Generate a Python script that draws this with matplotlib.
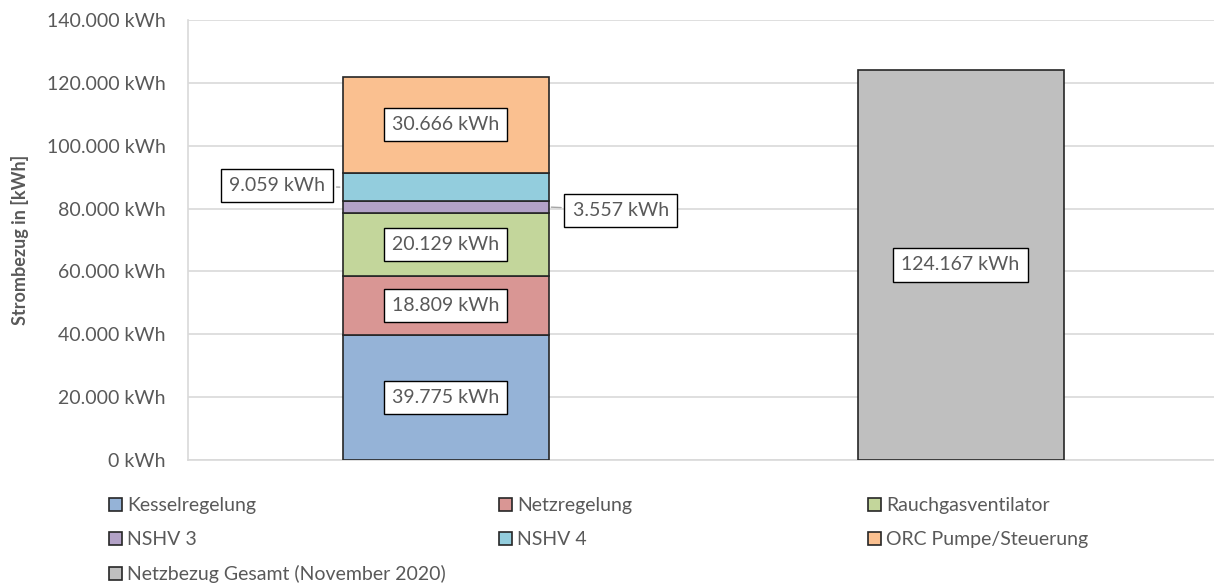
import matplotlib.pyplot as plt
import numpy as np

plt.rcParams['font.family'] = ['Lato', 'DejaVu Sans']

categories = ['Anteile', 'Gesamt']
parts = ['Kesselregelung', 'Netzregelung', 'Rauchgasventilator',
         'NSHV 3', 'NSHV 4', 'ORC Pumpe/Steuerung']
part_values = [39775, 18809, 20129, 3557, 9059, 30666]
part_colors = ['#95B3D7', '#D99694', '#C3D69B', '#B3A2C7', '#93CDDD', '#FAC090']
total_label = 'Netzbezug Gesamt (November 2020)'
total_value = 124167
total_color = '#BFBFBF'
yticks = [0, 20000, 40000, 60000, 80000, 100000, 120000, 140000]


def fmt(v):
    return '{:,}'.format(int(v)).replace(',', '.') + ' kWh'


fig = plt.figure(figsize=(12.14, 5.83), dpi=100)
ax = fig.add_axes([188 / 1214, 1 - 460 / 583, 1030 / 1214, 440 / 583])

txt = '#595959'
fs = 14
box = dict(boxstyle='square,pad=0.42', fc='white', ec='black', lw=1)
width = 0.4

handles = []
bottom = 0
for name, val, col in zip(parts, part_values, part_colors):
    h = ax.bar(0, val, width, bottom=bottom, color=col, edgecolor='#262626',
               lw=1.2, label=name, zorder=3)
    handles.append(h)
    mid = bottom + val / 2
    if name == 'NSHV 4':
        ax.annotate(fmt(val), xy=(-width / 2, mid), xytext=(-0.327, mid + 500),
                    ha='center', va='center', fontsize=fs, color=txt, bbox=box,
                    arrowprops=dict(arrowstyle='-', color='#A6A6A6', lw=1), zorder=5)
    elif name == 'NSHV 3':
        ax.annotate(fmt(val), xy=(width / 2, mid), xytext=(0.34, mid - 1000),
                    ha='center', va='center', fontsize=fs, color=txt, bbox=box,
                    arrowprops=dict(arrowstyle='-', color='#A6A6A6', lw=1), zorder=5)
    else:
        ax.text(0, mid, fmt(val), ha='center', va='center', fontsize=fs,
                color=txt, bbox=box, zorder=5)
    bottom += val

h = ax.bar(1, total_value, width, color=total_color, edgecolor='#262626',
           lw=1.2, label=total_label, zorder=3)
handles.append(h)
ax.text(1, total_value / 2, fmt(total_value), ha='center', va='center',
        fontsize=fs, color=txt, bbox=box, zorder=5)

ax.set_xlim(-0.5, 1.5)
ax.set_ylim(0, 140000)
ax.set_yticks(yticks)
ax.set_yticklabels([fmt(v) for v in yticks], fontsize=fs, color=txt)
ax.set_xticks([])
ax.tick_params(axis='y', length=0, pad=16)
ax.grid(axis='y', color='#D9D9D9', lw=1.2, zorder=0)
for s in ['top', 'right']:
    ax.spines[s].set_visible(False)
ax.spines['left'].set_color('#D9D9D9')
ax.spines['left'].set_lw(1.2)
ax.spines['bottom'].set_color('#D9D9D9')
ax.spines['bottom'].set_lw(1.2)

fig.text(20 / 1214, 1 - 240 / 583, 'Strombezug in [kWh]', rotation=90,
         ha='center', va='center', fontsize=13, fontweight='bold', color=txt)

# legend: three columns at fixed positions, filled row-wise
labels = parts + [total_label]
columns = [[0, 3, 6], [1, 4], [2, 5]]
col_x = [109, 499, 868]
for idx, x0 in zip(columns, col_x):
    leg = fig.legend([handles[i] for i in idx], [labels[i] for i in idx],
                     loc='upper left', bbox_to_anchor=(x0 / 1214, 1 - 497 / 583),
                     frameon=False, fontsize=fs, handlelength=0.65,
                     handleheight=0.65, handletextpad=0.3, labelspacing=0.88,
                     borderpad=0, borderaxespad=0)
    for t in leg.get_texts():
        t.set_color(txt)

fig.savefig('out.png', dpi=100)
